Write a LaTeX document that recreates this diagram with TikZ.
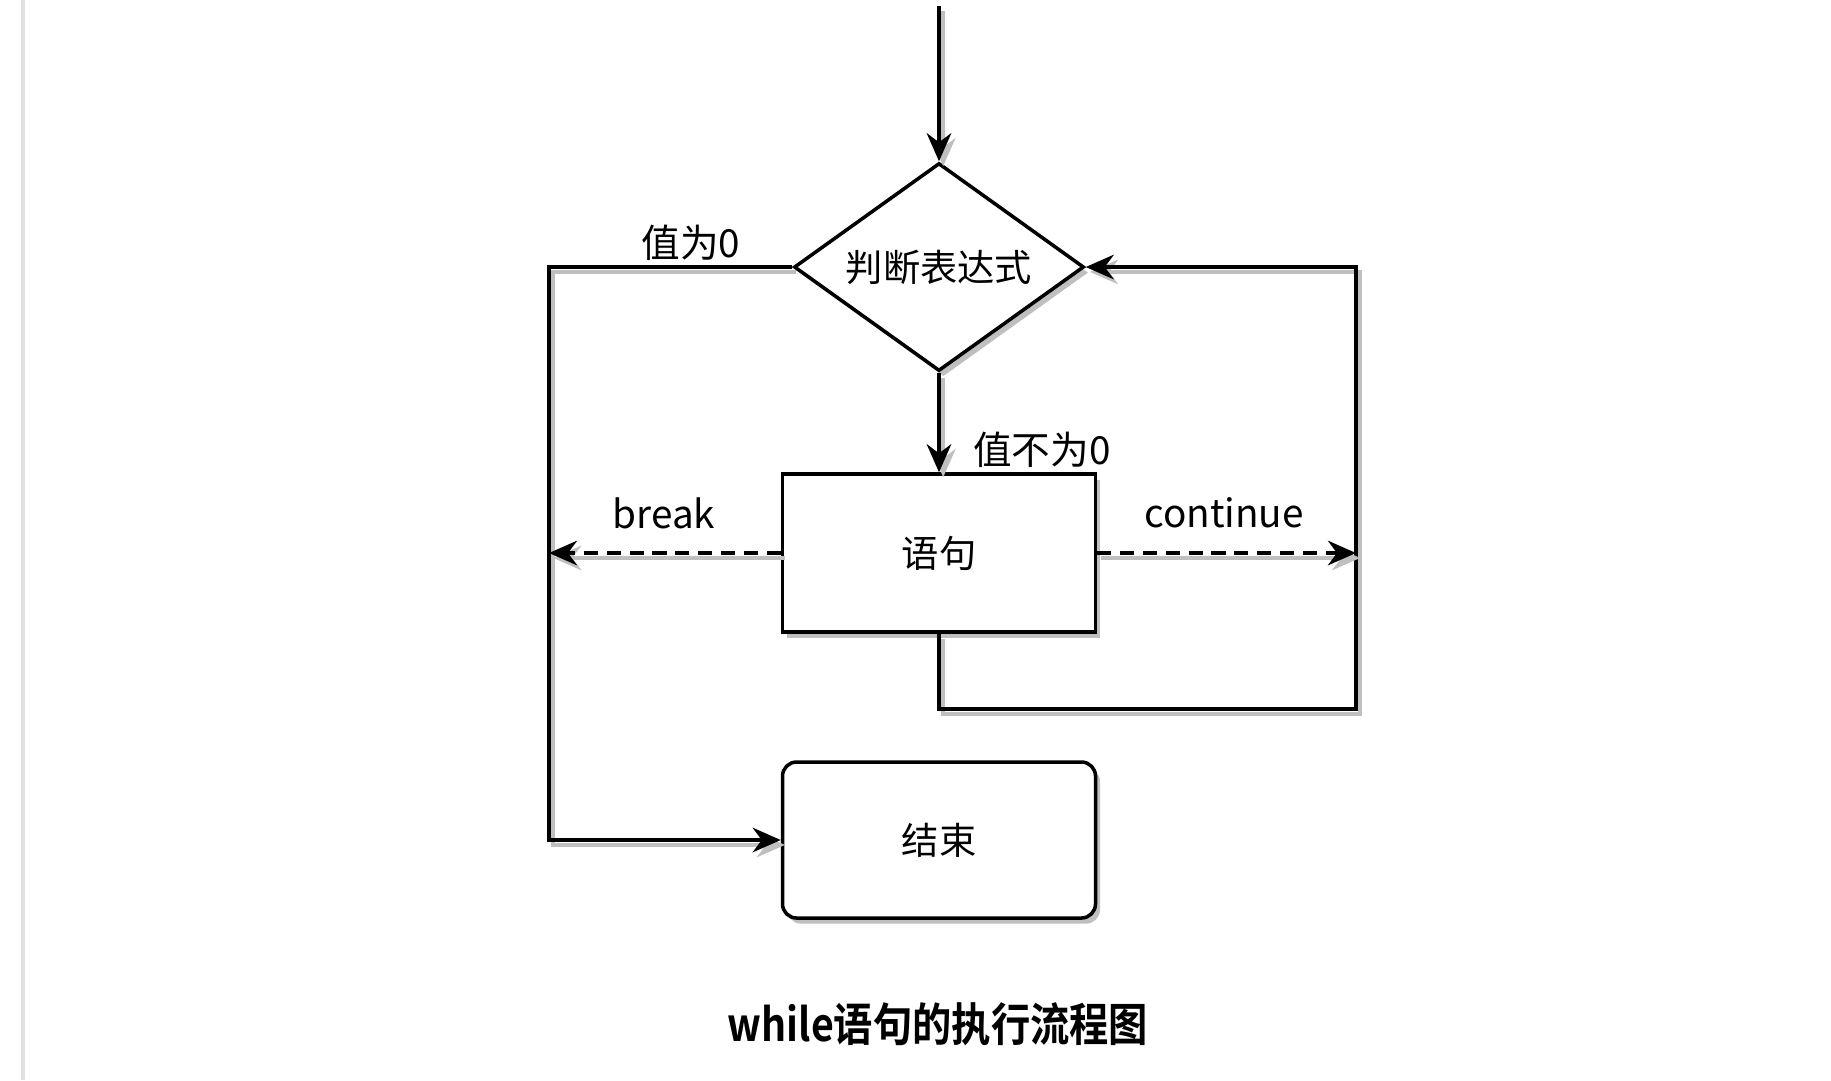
\documentclass[tikz,border=0pt]{standalone}
\usepackage{fontspec}
\setmainfont{Noto Sans CJK SC}[BoldFont={Noto Sans CJK SC Bold}]
\usetikzlibrary{shapes.geometric,arrows.meta,shadows}
\tikzset{
  line/.style={draw=black,line width=1pt,
    preaction={draw=black!25,line width=1pt,transform canvas={shift={(1.2pt,-1.4pt)}}}},
  dashline/.style={line,dash pattern=on 4pt off 2.5pt},
  shade box/.style={draw=black,line width=1pt,fill=white,
    drop shadow={shadow xshift=1.3pt,shadow yshift=-1.6pt,fill=black!25,opacity=1}},
  cond/.style={shade box,diamond,aspect=1.39,inner sep=0pt,
    minimum width=2.9cm,minimum height=2.08cm},
  stmt/.style={shade box,rectangle,minimum width=3.13cm,minimum height=1.58cm},
  endbox/.style={shade box,rectangle,rounded corners=4pt,
    minimum width=3.13cm,minimum height=1.56cm},
  lbl/.style={font=\fontsize{11pt}{13pt}\selectfont}
}
\begin{document}
\begin{tikzpicture}[x=0.1mm,y=-0.1mm,font=\fontsize{10.6pt}{13pt}\selectfont,>={Stealth[length=8pt,width=7pt]}]
\useasboundingbox (0,0) rectangle (1831,1080);
% page edge on the left
\draw[black!12,line width=1pt] (23,0) -- (23,1080);
% shapes
\coordinate (start) at (939,6);
\node[cond]   (cond) at (939,267) {判断表达式};
\node[stmt]   (stmt) at (939,553) {语句};
\node[endbox] (fin)  at (939,840) {结束};
% corners of the two loops
\coordinate (lt) at (549,267);
\coordinate (lb) at (549,840);
\coordinate (rt) at (1356,267);
\coordinate (rb) at (1356,709);
\coordinate (sb) at (939,709);
\coordinate (brk) at (549,553);
\coordinate (cnt) at (1356,553);
% connectors
\draw[line,->] (start) -- (cond.north);
\draw[line,->] (cond.south) -- (stmt.north);
\draw[line,->] (cond.west) -- (lt) -- (lb) -- (fin.west);
\draw[line,->] (stmt.south) -- (sb) -- (rb) -- (rt) -- (cond.east);
\draw[dashline,->] (stmt.west) -- (brk);
\draw[dashline,->] (stmt.east) -- (cnt);
% labels
\node[lbl] (zero)    at (691,243)  {值为0};
\node[lbl] (nonzero) at (1042,450) {值不为0};
\node[lbl] (brklbl)  at (664,513)  {break};
\node[lbl] (cntlbl)  at (1224,513) {continue};
% caption
\node[font=\fontsize{13pt}{16pt}\selectfont\bfseries,xscale=0.86] (cap) at (938,1024) {while语句的执行流程图};
\end{tikzpicture}
\end{document}
